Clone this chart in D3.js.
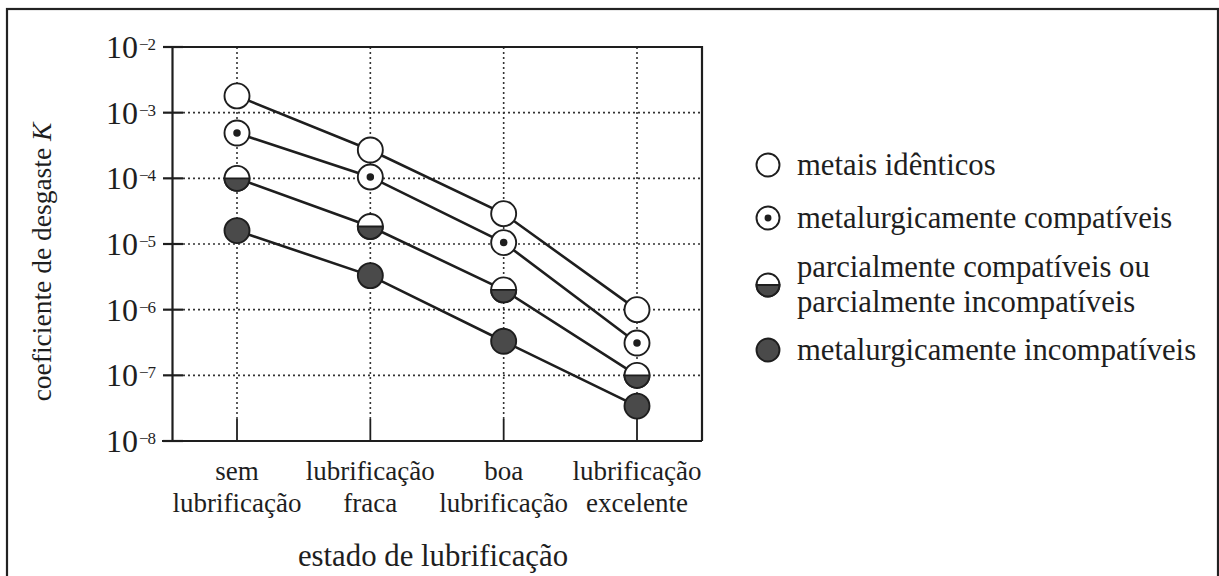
<!DOCTYPE html>
<html>
<head>
<meta charset="utf-8">
<script src="https://cdn.jsdelivr.net/npm/d3@7"></script>
<style>
  html, body { margin: 0; padding: 0; background: #fff; }
  text { font-family: "Liberation Serif", Tinos, "Times New Roman", Times, "DejaVu Serif", serif; }
</style>
</head>
<body>
<svg id="chart" width="1219" height="576"></svg>
<script>
// ---- data ----
const categories = ["sem lubrificação", "lubrificação fraca", "boa lubrificação", "lubrificação excelente"];
const categoryLine1 = ["sem", "lubrificação", "boa", "lubrificação"];
const categoryLine2 = ["lubrificação", "fraca", "lubrificação", "excelente"];
const yTickExponents = [-2, -3, -4, -5, -6, -7, -8];
const seriesNames = ["metais idênticos", "metalurgicamente compatíveis",
  "parcialmente compatíveis ou|parcialmente incompatíveis", "metalurgicamente incompatíveis"];
const seriesMarkers = ["open", "dot", "half", "filled"];
const identicos = [1.8e-3, 2.7e-4, 2.9e-5, 1.0e-6];
const compativeis = [4.9e-4, 1.05e-4, 1.05e-5, 3.1e-7];
const parciais = [1.0e-4, 1.85e-5, 2.0e-6, 1.0e-7];
const incompativeis = [1.6e-5, 3.3e-6, 3.3e-7, 3.4e-8];
const seriesValues = [identicos, compativeis, parciais, incompativeis];

// ---- layout ----
const svg = d3.select("#chart");
const pLeft = 172, pRight = 702, pTop = 47, pBottom = 441;
const x = d3.scalePoint().domain(categories).range([237, 637]);
const y = d3.scaleLog().domain([1e-8, 1e-2]).range([pBottom, pTop]);
const ink = "#1e1e1e", grey = "#4a4a4a";

// outer frame
svg.append("rect").attr("x", 7).attr("y", 9).attr("width", 1211).attr("height", 600)
  .attr("fill", "none").attr("stroke", "#222").attr("stroke-width", 2.2);

// grid lines (dotted)
const grid = svg.append("g").attr("stroke", "#333").attr("stroke-width", 1.6)
  .attr("stroke-dasharray", "2,3");
yTickExponents.filter(e => e > -8 && e < -2).forEach(e => {
  grid.append("line").attr("x1", pLeft + 11).attr("x2", pRight)
    .attr("y1", y(Math.pow(10, e))).attr("y2", y(Math.pow(10, e)));
});
categories.forEach(c => {
  grid.append("line").attr("x1", x(c)).attr("x2", x(c))
    .attr("y1", pTop).attr("y2", pBottom - 22);
});

// axes frame
const yAxis = d3.axisLeft(y).tickValues(yTickExponents.map(e => Math.pow(10, e)))
  .tickSize(0).tickFormat("");
svg.append("g").attr("transform", `translate(${pLeft},0)`).call(yAxis)
  .call(g => g.select(".domain").attr("stroke", ink).attr("stroke-width", 2.2));
const xAxis = d3.axisBottom(x).tickSize(0).tickFormat("");
svg.append("g").attr("transform", `translate(0,${pBottom})`).call(xAxis)
  .call(g => g.select(".domain").attr("d", `M${pLeft - 10},0H${pRight}`)
    .attr("stroke", ink).attr("stroke-width", 2.2));
svg.append("path").attr("d", `M${pLeft - 9},${pTop}H${pRight}V${pBottom}`)
  .attr("fill", "none").attr("stroke", ink).attr("stroke-width", 2.2);

// y ticks crossing the axis, with labels 10^n
yTickExponents.forEach(e => {
  const yy = y(Math.pow(10, e));
  svg.append("line").attr("x1", pLeft - 9).attr("x2", pLeft + 11)
    .attr("y1", yy).attr("y2", yy).attr("stroke", ink).attr("stroke-width", 2.2);
  const t = svg.append("text").attr("y", yy + 11)
    .attr("font-size", 32).attr("fill", ink);
  t.append("tspan").text("10");
  t.append("tspan").attr("font-size", 17).attr("dy", -8).attr("dx", 1)
    .attr("letter-spacing", -1).text("\u2212" + Math.abs(e));
  const w = t.select("tspan").node().getComputedTextLength();
  t.attr("x", 138 - w);
});

// x ticks (inward)
categories.forEach(c => {
  svg.append("line").attr("x1", x(c)).attr("x2", x(c))
    .attr("y1", pBottom).attr("y2", pBottom - 22).attr("stroke", ink).attr("stroke-width", 1.8);
});

// x tick labels
categories.forEach((c, i) => {
  svg.append("text").attr("x", x(c)).attr("y", 480).attr("text-anchor", "middle")
    .attr("font-size", 27).attr("fill", ink).text(categoryLine1[i]);
  svg.append("text").attr("x", x(c)).attr("y", 512).attr("text-anchor", "middle")
    .attr("font-size", 27).attr("fill", ink).text(categoryLine2[i]);
});

// axis titles
svg.append("text").attr("x", 433).attr("y", 566).attr("text-anchor", "middle")
  .attr("font-size", 30.8).attr("fill", ink).text("estado de lubrificação");
const yt = svg.append("text").attr("transform", "translate(51,262) rotate(-90)")
  .attr("text-anchor", "middle").attr("font-size", 27.5).attr("fill", ink);
yt.append("tspan").text("coeficiente de desgaste ");
yt.append("tspan").attr("font-style", "italic").text("K");

// lines
const line = d3.line().x((d, i) => x(categories[i])).y(d => y(d));
seriesValues.forEach(vals => {
  svg.append("path").attr("d", line(vals)).attr("fill", "none")
    .attr("stroke", ink).attr("stroke-width", 2.6);
});

// markers
function marker(g, cx, cy, type, r) {
  const sw = 1.9;
  if (type === "filled") {
    g.append("circle").attr("cx", cx).attr("cy", cy).attr("r", r)
      .attr("fill", grey).attr("stroke", ink).attr("stroke-width", sw);
  } else if (type === "half") {
    g.append("circle").attr("cx", cx).attr("cy", cy).attr("r", r)
      .attr("fill", "#fff").attr("stroke", ink).attr("stroke-width", sw);
    g.append("path").attr("d", `M${cx - r},${cy} A${r},${r} 0 0 0 ${cx + r},${cy} Z`)
      .attr("fill", grey).attr("stroke", ink).attr("stroke-width", sw);
  } else {
    g.append("circle").attr("cx", cx).attr("cy", cy).attr("r", r)
      .attr("fill", "#fff").attr("stroke", ink).attr("stroke-width", sw);
    if (type === "dot") {
      g.append("circle").attr("cx", cx).attr("cy", cy).attr("r", r * 0.3).attr("fill", ink);
    }
  }
}
const mg = svg.append("g");
seriesValues.forEach((vals, s) => {
  vals.forEach((v, i) => marker(mg, x(categories[i]), y(v), seriesMarkers[s], 12.5));
});

// legend
const legendY = [165, 218, 285, 350];
const legendBase = [[175], [228], [277, 312], [360]];
seriesNames.forEach((name, s) => {
  marker(svg, 768, legendY[s], seriesMarkers[s], 11.5);
  name.split("|").forEach((ln, k) => {
    svg.append("text").attr("x", 797).attr("y", legendBase[s][k])
      .attr("font-size", 30.7).attr("fill", ink).text(ln);
  });
});
</script>
</body>
</html>
